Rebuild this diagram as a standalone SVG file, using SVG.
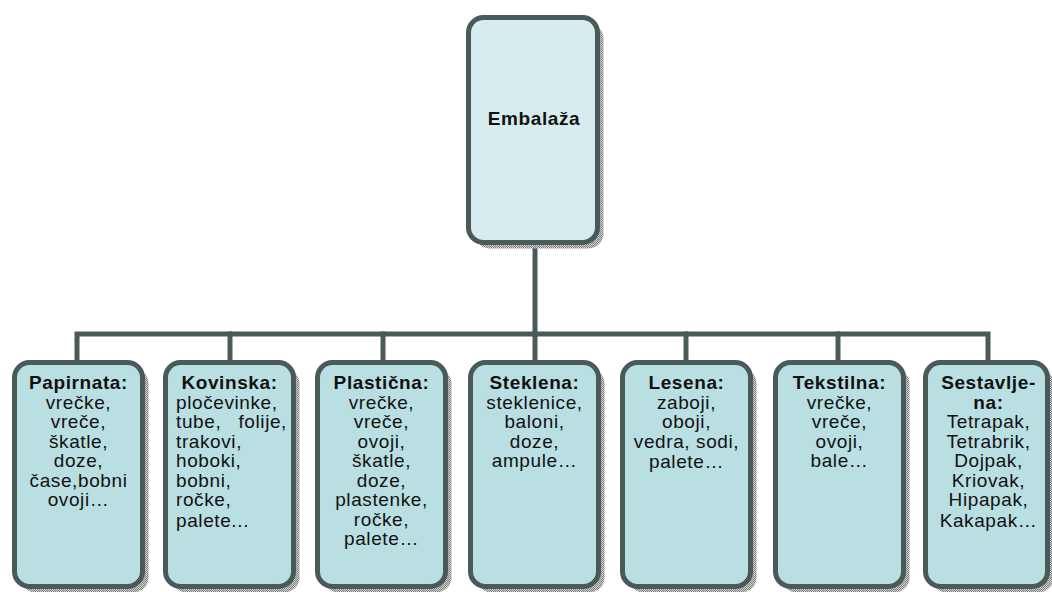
<svg xmlns="http://www.w3.org/2000/svg" width="1052" height="592" viewBox="0 0 1052 592">
<defs>
<pattern id="dither" width="2" height="2" patternUnits="userSpaceOnUse">
<rect width="2" height="2" fill="#d8d8d8"/>
<rect x="0" y="0" width="1" height="1" fill="#7a7a7a"/>
<rect x="1" y="1" width="1" height="1" fill="#7a7a7a"/>
</pattern>
</defs>
<style>
.shadow{fill:url(#dither);}
.box{stroke:#4a5a5a;stroke-width:5;}
.top{fill:#d6ecef;}
.child{fill:#b9dfe3;}
.conn{stroke:#4a5a5a;stroke-width:5;fill:none;stroke-linecap:square;}
text{font-family:"Liberation Sans",Arial,sans-serif;font-size:19px;fill:#111;letter-spacing:0.6px;}
.c{text-anchor:middle;}
.b{font-weight:bold;}
</style>
<rect width="1052" height="592" fill="#ffffff"/>

<g id="connectors">
<path class="conn" d="M535 245 V334"/>
<path class="conn" d="M77 360 V334 H988 V360"/>
<path class="conn" d="M230 334 V360"/>
<path class="conn" d="M383 334 V360"/>
<path class="conn" d="M535 334 V360"/>
<path class="conn" d="M686 334 V360"/>
<path class="conn" d="M838 334 V360"/>
</g>

<g id="root">
<rect class="shadow" x="474.5" y="23.5" width="129" height="225" rx="15"/>
<rect class="box top" x="468.5" y="17.5" width="129" height="225" rx="15"/>
<text class="c b" x="534" y="125">Embalaža</text>
</g>

<g id="papirnata">
<rect class="shadow" x="20.5" y="368.5" width="128" height="224" rx="15"/>
<rect class="box child" x="14.5" y="362.5" width="128" height="224" rx="15"/>
<text class="c b" x="78.5" y="389">Papirnata:</text>
<text class="c" x="78.5" y="408.5">vrečke,</text>
<text class="c" x="78.5" y="428">vreče,</text>
<text class="c" x="78.5" y="447.5">škatle,</text>
<text class="c" x="78.5" y="467">doze,</text>
<text class="c" x="78.5" y="486.5">čase,bobni</text>
<text class="c" x="78.5" y="506">ovoji…</text>
</g>

<g id="kovinska">
<rect class="shadow" x="171.5" y="368.5" width="128" height="224" rx="15"/>
<rect class="box child" x="165.5" y="362.5" width="128" height="224" rx="15"/>
<text class="c b" x="229.5" y="389">Kovinska:</text>
<text x="176" y="408.5">pločevinke,</text>
<text x="176" y="428">tube,</text>
<text x="287" y="428" text-anchor="end">folije,</text>
<text x="176" y="447.5">trakovi,</text>
<text x="176" y="467">hoboki,</text>
<text x="176" y="486.5">bobni,</text>
<text x="176" y="506">ročke,</text>
<text x="176" y="527">palete...</text>
</g>

<g id="plasticna">
<rect class="shadow" x="323.5" y="368.5" width="128" height="224" rx="15"/>
<rect class="box child" x="317.5" y="362.5" width="128" height="224" rx="15"/>
<text class="c b" x="381.5" y="389">Plastična:</text>
<text class="c" x="381.5" y="408.5">vrečke,</text>
<text class="c" x="381.5" y="428">vreče,</text>
<text class="c" x="381.5" y="447.5">ovoji,</text>
<text class="c" x="381.5" y="467">škatle,</text>
<text class="c" x="381.5" y="486.5">doze,</text>
<text class="c" x="381.5" y="506">plastenke,</text>
<text class="c" x="381.5" y="525.5">ročke,</text>
<text class="c" x="381.5" y="545">palete…</text>
</g>

<g id="steklena">
<rect class="shadow" x="476.5" y="368.5" width="128" height="224" rx="15"/>
<rect class="box child" x="470.5" y="362.5" width="128" height="224" rx="15"/>
<text class="c b" x="534.5" y="389">Steklena:</text>
<text class="c" x="534.5" y="408.5">steklenice,</text>
<text class="c" x="534.5" y="428">baloni,</text>
<text class="c" x="534.5" y="447.5">doze,</text>
<text class="c" x="534.5" y="467">ampule…</text>
</g>

<g id="lesena">
<rect class="shadow" x="628.5" y="368.5" width="128" height="224" rx="15"/>
<rect class="box child" x="622.5" y="362.5" width="128" height="224" rx="15"/>
<text class="c b" x="686.5" y="389">Lesena:</text>
<text class="c" x="686.5" y="408.5">zaboji,</text>
<text class="c" x="686.5" y="428">oboji,</text>
<text class="c" x="686.5" y="447.5">vedra, sodi,</text>
<text class="c" x="686.5" y="468">palete…</text>
</g>

<g id="tekstilna">
<rect class="shadow" x="781.5" y="368.5" width="128" height="224" rx="15"/>
<rect class="box child" x="775.5" y="362.5" width="128" height="224" rx="15"/>
<text class="c b" x="839.5" y="389">Tekstilna:</text>
<text class="c" x="839.5" y="408.5">vrečke,</text>
<text class="c" x="839.5" y="428">vreče,</text>
<text class="c" x="839.5" y="447.5">ovoji,</text>
<text class="c" x="839.5" y="467">bale…</text>
</g>

<g id="sestavljena">
<rect class="shadow" x="931.5" y="368.5" width="122" height="224" rx="15"/>
<rect class="box child" x="925.5" y="362.5" width="122" height="224" rx="15"/>
<text class="c b" x="988.5" y="389">Sestavlje-</text>
<text class="c b" x="988.5" y="408.5">na:</text>
<text class="c" x="988.5" y="428">Tetrapak,</text>
<text class="c" x="988.5" y="447.5">Tetrabrik,</text>
<text class="c" x="988.5" y="467">Dojpak,</text>
<text class="c" x="988.5" y="486.5">Kriovak,</text>
<text class="c" x="988.5" y="506">Hipapak,</text>
<text class="c" x="988.5" y="527">Kakapak…</text>
</g>
</svg>
